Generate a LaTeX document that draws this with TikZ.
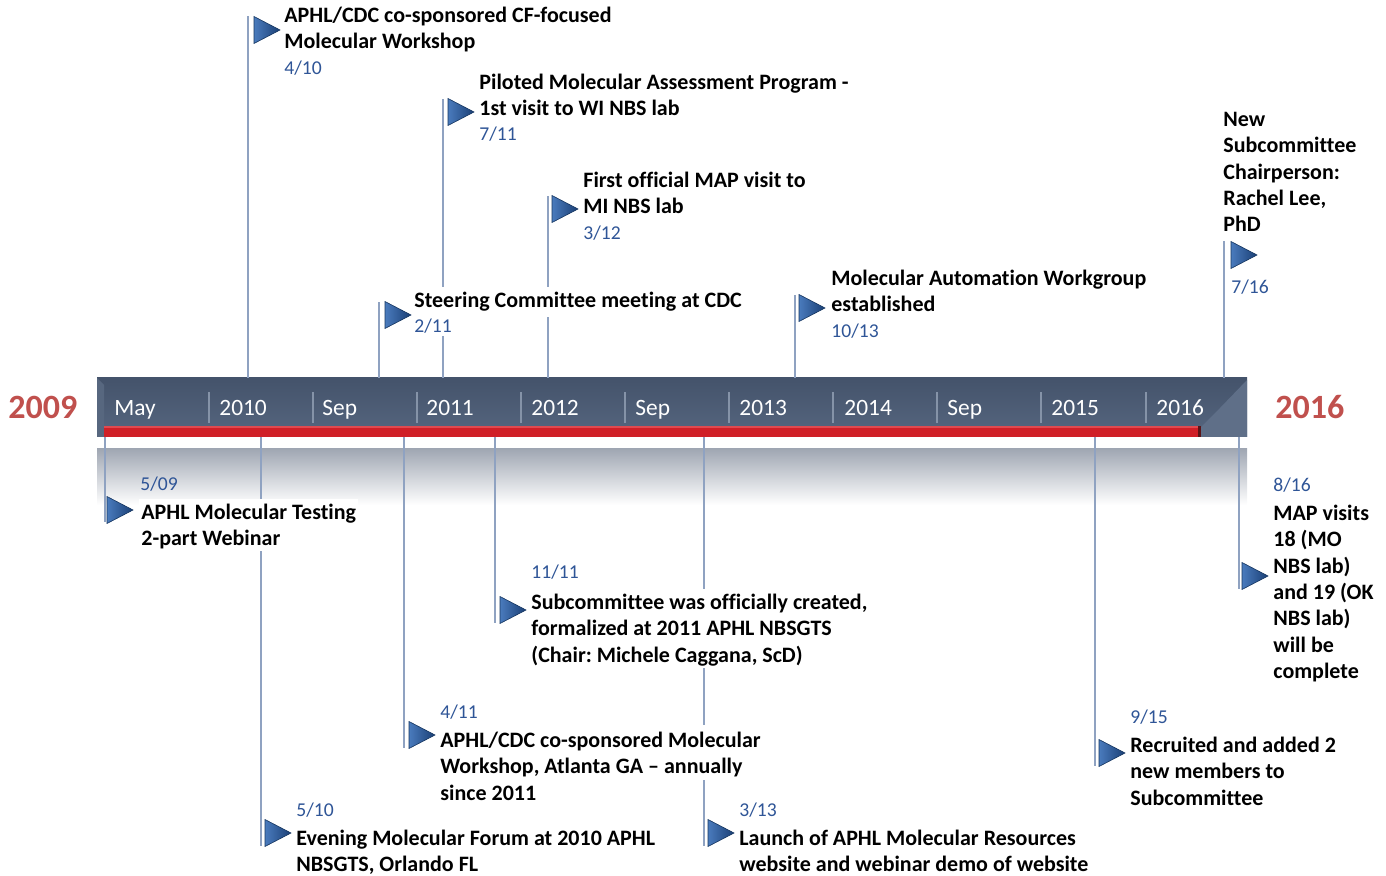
\documentclass[tikz,border=0pt]{standalone}
\usepackage{fontspec}
\setmainfont[Ligatures={NoCommon}]{Carlito}
\frenchspacing
\definecolor{linecol}{HTML}{8FA2C1}
\definecolor{datecol}{HTML}{2F5597}
\definecolor{yearred}{HTML}{C0504D}
\definecolor{barTop}{HTML}{44536B}
\definecolor{barBot}{HTML}{56667F}
\definecolor{barBevel}{HTML}{5F6F88}
\definecolor{sepcol}{HTML}{8593A8}
\definecolor{redbar}{HTML}{D01F27}
\definecolor{redhi}{HTML}{E04A50}
\definecolor{redend}{HTML}{5A1418}
\definecolor{triL}{HTML}{4A7BBD}
\definecolor{triR}{HTML}{1A3F75}
\definecolor{triE}{HTML}{15355F}
\definecolor{reflTop}{HTML}{A0A7B3}
\newcommand\flagat[3]{%
  \coordinate (#1) at (#2,#3);
  \path[flagtri] (#2,#3-13.5) -- (#2+26,#3) -- (#2,#3+13.5) -- cycle;
}
\begin{document}
\begin{tikzpicture}[x=0.5pt,y=-0.5pt,
  lead/.style={draw=linecol, line width=1pt},
  evtext/.style={anchor=north west, align=left, font=\fontsize{11}{13.2}\selectfont\bfseries, fill=white, inner xsep=1pt, inner ysep=1pt},
  evdate/.style={anchor=base west, font=\fontsize{9.8}{11}\selectfont, text=datecol, fill=white, inner sep=1pt},
  evdatenf/.style={evdate, fill=none},
  barlabel/.style={anchor=base west, font=\fontsize{11.7}{14}\selectfont, text=white, inner sep=0pt},
  yearlabel/.style={anchor=base west, font=\fontsize{17}{20}\selectfont\bfseries, text=yearred, inner sep=0pt},
  sepline/.style={draw=sepcol, line width=1pt},
  flagtri/.style={left color=triL, right color=triR, draw=triE, line width=0.3pt}]
\useasboundingbox (0,0) rectangle (1386,876);

% reflection below bar
\shade[top color=reflTop, bottom color=white] (97,449) rectangle (1247,505);

% bar
\shade[top color=barTop, bottom color=barBot] (97,378) rectangle (1247,437);
\fill[barBevel] (1247,380) -- (1220,408) -- (1201,427) -- (1201,437) -- (1247,437) -- cycle;
\fill[barBevel!70!barTop] (97,378) -- (104,385) -- (104,437) -- (97,437) -- cycle;
\fill[redbar] (104,426) rectangle (1201,437);
\fill[redhi] (104,426) rectangle (1201,428);
\fill[redend] (1198,426) rectangle (1201,437);

% separators
\foreach \sx in {209,313,417,521,625,729,833,937,1041,1146}
  \draw[sepline] (\sx,392) -- (\sx,423);

% bar labels
\node[barlabel] (lmay) at (114,416) {May};
\node[barlabel] (l2010) at (219,416) {2010};
\node[barlabel] (lsep1) at (322,416) {Sep};
\node[barlabel] (l2011) at (426,416) {2011};
\node[barlabel] (l2012) at (531,416) {2012};
\node[barlabel] (lsep2) at (635,416) {Sep};
\node[barlabel] (l2013) at (739,416) {2013};
\node[barlabel] (l2014) at (844,416) {2014};
\node[barlabel] (lsep3) at (947,416) {Sep};
\node[barlabel] (l2015) at (1051,416) {2015};
\node[barlabel] (l2016) at (1156,416) {2016};

% years
\node[yearlabel] (y2009) at (8,419) {2009};
\node[yearlabel] (y2016) at (1275,419) {2016};

% leader lines (above)
\coordinate (a1b) at (248,378); \coordinate (a1t) at (248,16);
\coordinate (a2b) at (443,378); \coordinate (a2t) at (443,99);
\coordinate (a3b) at (548,378); \coordinate (a3t) at (548,196);
\coordinate (a4b) at (379,378); \coordinate (a4t) at (379,302);
\coordinate (a5b) at (795,378); \coordinate (a5t) at (795,295);
\coordinate (a6b) at (1224,378); \coordinate (a6t) at (1224,241);
\foreach \n in {a1,a2,a3,a4,a5,a6} \draw[lead] (\n b) -- (\n t);

% leader lines (below)
\coordinate (b1t) at (105,437); \coordinate (b1b) at (105,522);
\coordinate (b2t) at (261,437); \coordinate (b2b) at (261,846);
\coordinate (b3t) at (404,437); \coordinate (b3b) at (404,748);
\coordinate (b4t) at (495,437); \coordinate (b4b) at (495,623);
\coordinate (b6t) at (1095,437); \coordinate (b6b) at (1095,766);
\coordinate (b7t) at (1239,437); \coordinate (b7b) at (1239,589);
\foreach \n in {b1,b2,b3,b4,b6,b7} \draw[lead] (\n t) -- (\n b);
\coordinate (b5t) at (704,437); \coordinate (b5m) at (704,725);
\coordinate (b5n) at (704,780); \coordinate (b5b) at (704,846);
\draw[lead] (b5t) -- (b5m);
\draw[lead] (b5n) -- (b5b);

% flags
\flagat{fa1}{254}{30}
\flagat{fa2}{448}{112}
\flagat{fa3}{552}{209}
\flagat{fa4}{385}{315}
\flagat{fa5}{799}{308}
\flagat{fa6}{1231}{255}
\flagat{fb1}{107}{510}
\flagat{fb2}{265}{833}
\flagat{fb3}{409}{735}
\flagat{fb4}{500}{610}
\flagat{fb5}{708}{833}
\flagat{fb6}{1099}{753}
\flagat{fb7}{1242}{576}

% texts above
\node[evtext] (ta1) at (282,1.5) {\strut APHL/CDC co-sponsored CF-focused\\Molecular Workshop};
\node[evdate] (da1) at (282,75) {4/10};
\node[evtext] (ta2) at (477,68.5) {\strut Piloted Molecular Assessment Program -\\1st visit to WI NBS lab};
\node[evdate] (da2) at (477,141) {7/11};
\node[evtext] (ta3) at (581,166.5) {\strut First official MAP visit to\\MI NBS lab};
\node[evdate] (da3) at (581,240) {3/12};
\node[evtext] (ta4) at (412,286.5) {\strut Steering Committee meeting at CDC};
\node[evdate] (da4) at (412,333) {2/11};
\node[evtext] (ta5) at (829,264.5) {\strut Molecular Automation Workgroup\\established};
\node[evdate] (da5) at (829,338) {10/13};
\node[evtext] (ta6) at (1221,105.5) {\strut New\\Subcommittee\\Chairperson:\\Rachel Lee,\\PhD};
\node[evdate] (da6) at (1229,294) {7/16};

% texts below
\node[evtext] (tb1) at (139,498.5) {\strut APHL Molecular Testing\\2-part Webinar};
\node[evdatenf] (db1) at (138,491) {5/09};
\node[evtext] (tb2) at (294,824.5) {\strut Evening Molecular Forum at 2010 APHL\\NBSGTS, Orlando FL};
\node[evdate] (db2) at (294,816) {5/10};
\node[evtext, fill=none] (tb3) at (438,726.5) {\strut APHL/CDC co-sponsored Molecular\\Workshop, Atlanta GA -- annually\\since 2011};
\node[evdate] (db3) at (438,718) {4/11};
\node[evtext] (tb4) at (529,588.5) {\strut Subcommittee was officially created,\\formalized at 2011 APHL NBSGTS\\(Chair: Michele Caggana, ScD)};
\node[evdate] (db4) at (529,579) {11/11};
\node[evtext] (tb5) at (737,824.5) {\strut Launch of APHL Molecular Resources\\website and webinar demo of website};
\node[evdate] (db5) at (737,816) {3/13};
\node[evtext] (tb6) at (1128,731.5) {\strut Recruited and added 2\\new members to\\Subcommittee};
\node[evdate] (db6) at (1128,723) {9/15};
\node[evtext] (tb7) at (1271,499.5) {\strut MAP visits\\18 (MO\\NBS lab)\\and 19 (OK\\NBS lab)\\will be\\complete};
\node[evdatenf] (db7) at (1271,492) {8/16};
\end{tikzpicture}
\end{document}
